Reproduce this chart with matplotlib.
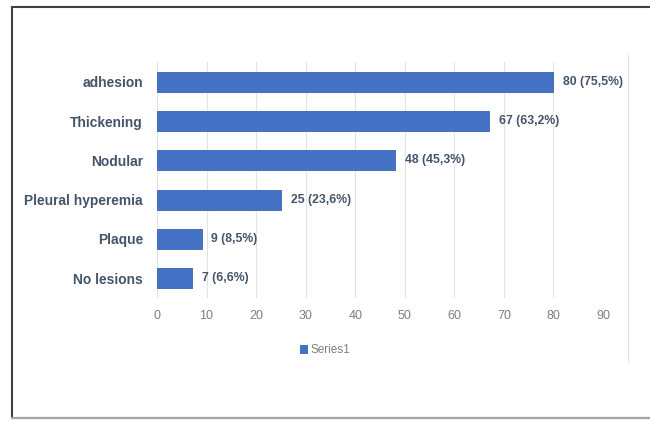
import matplotlib.pyplot as plt
from matplotlib.patches import Rectangle
from matplotlib.lines import Line2D

categories = ['No lesions', 'Plaque', 'Pleural hyperemia', 'Nodular', 'Thickening', 'adhesion']
counts = [7, 9, 25, 48, 67, 80]
labels = ['7 (6,6%)', '9 (8,5%)', '25 (23,6%)', '48 (45,3%)', '67 (63,2%)', '80 (75,5%)']
xticks = [0, 10, 20, 30, 40, 50, 60, 70, 80, 90]

plt.rcParams['font.family'] = ['Liberation Sans', 'DejaVu Sans']

fig = plt.figure(figsize=(6.5, 4.21), dpi=100)
ax = fig.add_axes([0.2415, 0.2931, 0.6862, 0.5587])

bars = ax.barh(categories, counts, height=0.51, color='#4472C4', edgecolor='#3A63AE', linewidth=0.6,
               label='Series1', zorder=3)
for b, lab in zip(bars, labels):
    ax.text(b.get_width() + 2, b.get_y() + b.get_height() / 2, lab, va='center', ha='left',
            fontsize=8.8, fontweight='bold', color='#44546A')

ax.set_xlim(0, 90)
ax.set_ylim(-0.5, 5.5)
ax.set_xticks(xticks)
ax.grid(axis='x', color='#E3E3E3', linewidth=0.8, zorder=0)
ax.tick_params(axis='x', length=0, labelsize=9, labelcolor='#7F7F7F', pad=9)
ax.tick_params(axis='y', length=0, labelsize=9.9, labelcolor='#44546A', pad=10)
for t in ax.get_yticklabels():
    t.set_fontweight('bold')
for s in ax.spines.values():
    s.set_visible(False)

leg = fig.legend(loc='center', bbox_to_anchor=(0.5, 0.168), frameon=False, fontsize=8.5,
                 handlelength=0.6, handleheight=0.6, handletextpad=0.3)
for t in leg.get_texts():
    t.set_color('#7F7F7F')

# outer chart border
fig.add_artist(Rectangle((12 / 650, 3 / 421), 1.0, 411 / 421, transform=fig.transFigure,
                         fill=False, edgecolor='#404040', linewidth=1.5))
fig.add_artist(Line2D([12 / 650, 1.0], [3 / 421, 3 / 421], transform=fig.transFigure,
                      color='#A6A6A6', linewidth=1.5))
fig.add_artist(Line2D([628 / 650, 628 / 650], [1 - 55 / 421, 1 - 362 / 421],
                      transform=fig.transFigure, color='#E3E3E3', linewidth=0.8))

fig.savefig('out.png', dpi=100)
